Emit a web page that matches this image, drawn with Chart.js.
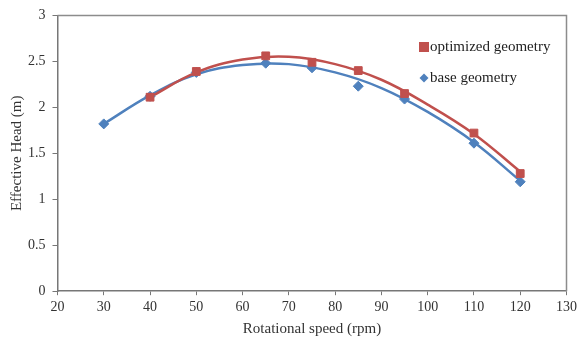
<!DOCTYPE html>
<html>
<head>
<meta charset="utf-8">
<script src="https://cdn.jsdelivr.net/npm/chart.js@4.4.0/dist/chart.umd.min.js"></script>
<style>
  html, body { margin: 0; padding: 0; background: #fff; }
  #wrap { width: 581px; height: 338px; }
</style>
</head>
<body>
<div id="wrap"><canvas id="headChart"></canvas></div>
<script>
// measured points
const speedOpt = [40, 50, 65, 75, 85, 95, 110, 120];
const headOpt = [2.11, 2.39, 2.56, 2.49, 2.40, 2.15, 1.72, 1.28];
const speedBase = [30, 40, 50, 65, 75, 85, 95, 110, 120];
const headBase = [1.82, 2.12, 2.38, 2.48, 2.43, 2.23, 2.09, 1.61, 1.19];

// trend curves
const trendOptX = [40, 50, 60, 70, 80, 90, 100, 110, 120];
const trendOptY = [2.11, 2.38, 2.52, 2.55, 2.47, 2.30, 2.03, 1.71, 1.30];
const trendBaseX = [30, 40, 50, 60, 70, 80, 90, 100, 110, 120];
const trendBaseY = [1.82, 2.13, 2.36, 2.46, 2.47, 2.38, 2.21, 1.95, 1.62, 1.20];

const xTicks = [20, 30, 40, 50, 60, 70, 80, 90, 100, 110, 120, 130];
const yTicks = [0, 0.5, 1, 1.5, 2, 2.5, 3];

const RED = '#C0504D';
const BLUE = '#4F81BD';
const FONT = "'Liberation Serif', 'Times New Roman', serif";

function pts(xs, ys) {
  return xs.map((x, i) => ({ x: x, y: ys[i] }));
}

// box on top/right + legend inside the plot
const boxAndLegend = {
  id: 'boxAndLegend',
  afterDraw(chart) {
    const { ctx, chartArea } = chart;
    ctx.save();
    ctx.strokeStyle = '#8c8c8c';
    ctx.lineWidth = 1.5;
    ctx.beginPath();
    ctx.moveTo(chartArea.left, chartArea.top);
    ctx.lineTo(chartArea.right, chartArea.top);
    ctx.lineTo(chartArea.right, chartArea.bottom);
    ctx.stroke();

    const items = chart.data.datasets.filter(d => d.inLegend);
    let y = 47;
    ctx.font = "15px " + FONT;
    ctx.textBaseline = 'middle';
    items.forEach(d => {
      ctx.fillStyle = d.backgroundColor;
      if (d.pointStyle === 'rect') {
        ctx.fillRect(419, y - 5, 10, 10);
      } else {
        ctx.beginPath();
        ctx.moveTo(424, y - 4.5);
        ctx.lineTo(428.5, y);
        ctx.lineTo(424, y + 4.5);
        ctx.lineTo(419.5, y);
        ctx.closePath();
        ctx.fill();
      }
      ctx.fillStyle = '#222';
      ctx.fillText(d.label, 430, y);
      y += 31;
    });
    ctx.restore();
  }
};

new Chart(document.getElementById('headChart'), {
  type: 'scatter',
  data: {
    datasets: [
      {
        label: 'optimized geometry',
        data: pts(speedOpt, headOpt),
        backgroundColor: RED,
        borderColor: RED,
        pointStyle: 'rect',
        pointRadius: 5.5,
        showLine: false,
        inLegend: true,
        order: 0,
      },
      {
        label: 'base geometry',
        data: pts(speedBase, headBase),
        backgroundColor: BLUE,
        borderColor: BLUE,
        pointStyle: 'rectRot',
        pointRadius: 5,
        showLine: false,
        inLegend: true,
        order: 1,
      },
      {
        label: 'trend opt',
        data: pts(trendOptX, trendOptY),
        borderColor: RED,
        borderWidth: 2.5,
        pointRadius: 0,
        showLine: true,
        tension: 0.4,
        order: 2,
      },
      {
        label: 'trend base',
        data: pts(trendBaseX, trendBaseY),
        borderColor: BLUE,
        borderWidth: 2.5,
        pointRadius: 0,
        showLine: true,
        tension: 0.4,
        order: 3,
      },
    ],
  },
  options: {
    responsive: true,
    maintainAspectRatio: false,
    animation: false,
    layout: { padding: { top: 9, right: 14, left: 8, bottom: 0 } },
    plugins: {
      legend: { display: false },
      tooltip: { enabled: false },
    },
    scales: {
      x: {
        type: 'linear',
        min: 20,
        max: 130,
        afterBuildTicks: axis => { axis.ticks = xTicks.map(v => ({ value: v })); },
        grid: { display: true, drawOnChartArea: false, tickLength: 4, color: '#777' },
        border: { color: '#777', width: 1.5 },
        ticks: { color: '#333', font: { family: FONT, size: 14 }, padding: 4, maxRotation: 0, callback: v => String(v) },
        title: { display: true, text: 'Rotational speed (rpm)', color: '#333', font: { family: FONT, size: 15 }, padding: { top: 0, bottom: 0 } },
      },
      y: {
        type: 'linear',
        min: 0,
        max: 3,
        afterBuildTicks: axis => { axis.ticks = yTicks.map(v => ({ value: v })); },
        grid: { display: true, drawOnChartArea: false, tickLength: 5, color: '#777' },
        border: { color: '#777', width: 1.5 },
        ticks: { color: '#333', font: { family: FONT, size: 14 }, padding: 7, callback: v => String(v) },
        title: { display: true, text: 'Effective Head (m)', color: '#333', font: { family: FONT, size: 15 }, padding: { top: 0, bottom: -5 } },
      },
    },
  },
  plugins: [boxAndLegend],
});
</script>
</body>
</html>
